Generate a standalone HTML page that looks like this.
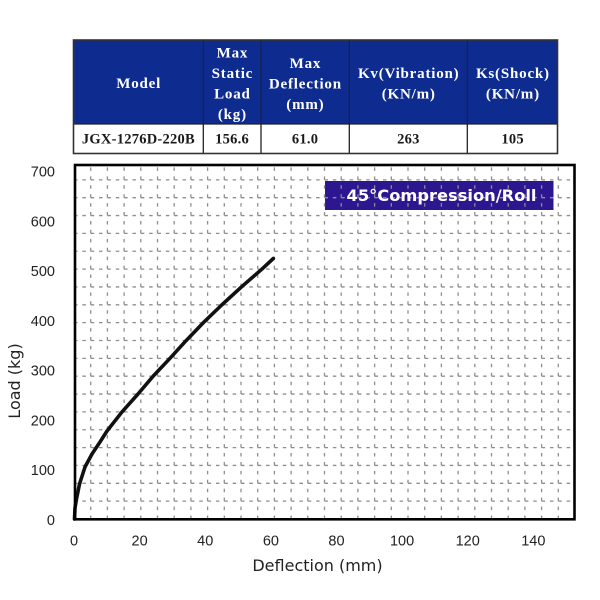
<!DOCTYPE html>
<html>
<head>
<meta charset="utf-8">
<style>
html,body{margin:0;padding:0;background:#fff;}
svg{display:block;}
</style>
</head>
<body>
<svg width="600" height="600" viewBox="0 0 600 600" xmlns="http://www.w3.org/2000/svg">
  <rect x="0" y="0" width="600" height="600" fill="#fff"/>

  <!-- ===== TABLE ===== -->
  <rect x="73.5" y="40" width="484" height="84" fill="#0e2b8f"/>
  <rect x="73.5" y="124" width="484" height="29.5" fill="#fff"/>
  <g stroke="#1a1f4a" stroke-width="1.2">
    <line x1="203.3" y1="40" x2="203.3" y2="124"/>
    <line x1="261" y1="40" x2="261" y2="124"/>
    <line x1="349.3" y1="40" x2="349.3" y2="124"/>
    <line x1="467.3" y1="40" x2="467.3" y2="124"/>
  </g>
  <g stroke="#222" stroke-width="1.3">
    <line x1="203.3" y1="124" x2="203.3" y2="153.5"/>
    <line x1="261" y1="124" x2="261" y2="153.5"/>
    <line x1="349.3" y1="124" x2="349.3" y2="153.5"/>
    <line x1="467.3" y1="124" x2="467.3" y2="153.5"/>
    <line x1="73.5" y1="124" x2="557.5" y2="124"/>
  </g>
  <rect x="73.5" y="40" width="484" height="113.5" fill="none" stroke="#333" stroke-width="1.6"/>

  <g font-family="'Liberation Serif', serif" font-weight="bold" font-size="15" fill="#fff" text-anchor="middle" letter-spacing="0.8">
    <text x="138.7" y="88">Model</text>
    <text x="232.4" y="57.5">Max</text>
    <text x="232.4" y="78">Static</text>
    <text x="232.4" y="98.5">Load</text>
    <text x="232.4" y="119">(kg)</text>
    <text x="305.4" y="68">Max</text>
    <text x="305.4" y="88.5">Deflection</text>
    <text x="305.4" y="109">(mm)</text>
    <text x="408.7" y="78">Kv(Vibration)</text>
    <text x="408.7" y="98.5">(KN/m)</text>
    <text x="512.9" y="78">Ks(Shock)</text>
    <text x="512.9" y="98.5">(KN/m)</text>
  </g>
  <g font-family="'Liberation Serif', serif" font-weight="bold" font-size="14.5" fill="#1a1a1a" text-anchor="middle" letter-spacing="0.25">
    <text x="138.4" y="143.5">JGX-1276D-220B</text>
    <text x="232.1" y="143.5">156.6</text>
    <text x="305.1" y="143.5">61.0</text>
    <text x="408.4" y="143.5">263</text>
    <text x="512.6" y="143.5">105</text>
  </g>

  <!-- ===== CHART ===== -->
  <rect x="325" y="181" width="228.5" height="29" fill="#2d1790"/>

  <g stroke="#8e8e8e" stroke-width="1.3" stroke-dasharray="3.5 4.85" fill="none">
    <path d="M74 501.15H574 M74 483.3H574 M74 465.45H574 M74 447.6H574 M74 429.75H574 M74 411.9H574 M74 394.05H574 M74 376.2H574 M74 358.35H574 M74 340.5H574 M74 322.65H574 M74 304.8H574 M74 286.95H574 M74 269.1H574 M74 251.25H574 M74 233.4H574 M74 215.55H574 M74 197.7H574 M74 179.85H574"/>
  </g>
  <g stroke="#8e8e8e" stroke-width="1.3" stroke-dasharray="3.5 5.425" fill="none">
    <path d="M90.7 519V166 M107.4 519V166 M124.1 519V166 M140.8 519V166 M157.5 519V166 M174.2 519V166 M190.9 519V166 M207.6 519V166 M224.3 519V166 M241 519V166 M257.7 519V166 M274.4 519V166 M291.1 519V166 M307.8 519V166 M324.5 519V166 M341.2 519V166 M357.9 519V166 M374.6 519V166 M391.3 519V166 M408 519V166 M424.7 519V166 M441.4 519V166 M458.1 519V166 M474.8 519V166 M491.5 519V166 M508.2 519V166 M524.9 519V166 M541.6 519V166 M558.3 519V166"/>
  </g>

  <text x="441.5" y="201" font-family="'DejaVu Sans', sans-serif" font-weight="bold" font-size="16" fill="#fff" text-anchor="middle" textLength="190" lengthAdjust="spacingAndGlyphs">45°Compression/Roll</text>

  <polyline fill="none" stroke="#111" stroke-width="3.6" stroke-linejoin="round" stroke-linecap="round"
    points="74.5,519 75,508 76.5,499 79.5,484 85,467 92,454 100,442 107,431 121.7,412.3 138,394 153.3,376 170,358.3 186,340.7 203.3,322.7 221.7,305 241.7,286.7 261.7,269.3 273.3,258.5"/>

  <rect x="75" y="165" width="499.5" height="354.3" fill="none" stroke="#000" stroke-width="2.6"/>

  <g font-family="'Liberation Sans', Arial, sans-serif" font-size="14.5" fill="#222" text-anchor="end">
    <text x="55" y="525">0</text>
    <text x="55" y="475">100</text>
    <text x="55" y="425.5">200</text>
    <text x="55" y="375.7">300</text>
    <text x="55" y="326">400</text>
    <text x="55" y="276">500</text>
    <text x="55" y="226.5">600</text>
    <text x="55" y="176.7">700</text>
  </g>
  <g font-family="'Liberation Sans', Arial, sans-serif" font-size="14.5" fill="#222" text-anchor="middle">
    <text x="74" y="545.5">0</text>
    <text x="139.6" y="545.5">20</text>
    <text x="205.2" y="545.5">40</text>
    <text x="270.9" y="545.5">60</text>
    <text x="336.5" y="545.5">80</text>
    <text x="402.1" y="545.5">100</text>
    <text x="467.7" y="545.5">120</text>
    <text x="533.3" y="545.5">140</text>
  </g>

  <text x="317.5" y="571" font-family="'DejaVu Sans', sans-serif" font-size="16" fill="#222" text-anchor="middle">Deflection (mm)</text>
  <text x="0" y="0" transform="translate(20,381) rotate(-90)" font-family="'DejaVu Sans', sans-serif" font-size="16" fill="#222" text-anchor="middle">Load (kg)</text>
</svg>
</body>
</html>
